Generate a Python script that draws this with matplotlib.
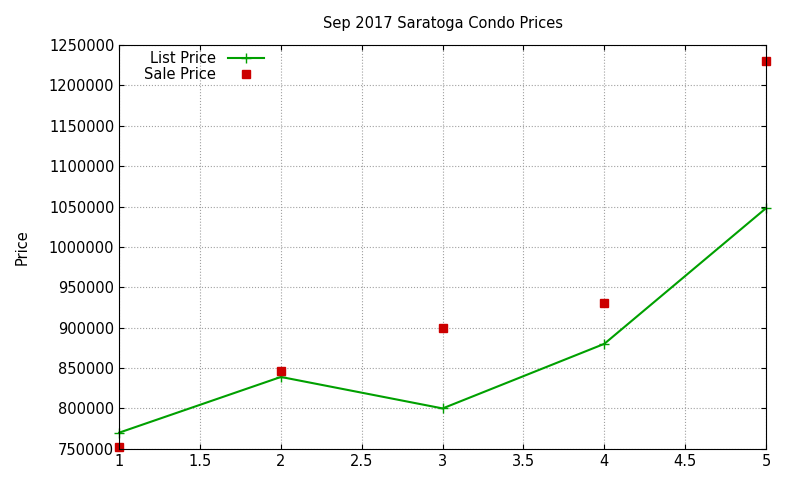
import matplotlib
matplotlib.use("Agg")
import matplotlib.pyplot as plt
from matplotlib.ticker import FormatStrFormatter

x = [1, 2, 3, 4, 5]
list_price = [770000, 839000, 800000, 880000, 1048000]
sale_price = [752000, 846000, 900000, 930000, 1230000]

fig = plt.figure(figsize=(8, 4.8), dpi=100)
ax = fig.add_axes([0.149, 0.065, 0.8085, 0.841])

ax.plot(x, list_price, color='#00a000', marker='+', markersize=7, linewidth=1.5,
        label='List Price', clip_on=False)
ax.plot(x, sale_price, color='#cc0000', marker='s', markersize=6, linestyle='none',
        label='Sale Price', clip_on=False)

ax.set_xlim(1, 5)
ax.set_ylim(750000, 1250000)
ax.set_xticks([1, 1.5, 2, 2.5, 3, 3.5, 4, 4.5, 5])
ax.set_xticklabels(['1', '1.5', '2', '2.5', '3', '3.5', '4', '4.5', '5'])
ax.set_yticks(range(750000, 1250001, 50000))
ax.yaxis.set_major_formatter(FormatStrFormatter('%d'))
ax.tick_params(direction='in', top=True, right=True, labelsize=10.5)
ax.grid(True, linestyle=':', color='#a0a0a0', linewidth=0.8)
ax.set_title('Sep 2017 Saratoga Condo Prices', fontsize=10.5, pad=12)
ax.set_ylabel('Price', fontsize=10.5, labelpad=14)

ax.legend(loc='upper left', markerfirst=False, frameon=False, fontsize=10.5,
          handlelength=2.5, borderaxespad=0.0, labelspacing=0.05, bbox_to_anchor=(0.03, 1.0))

fig.savefig('out.png', dpi=100)
